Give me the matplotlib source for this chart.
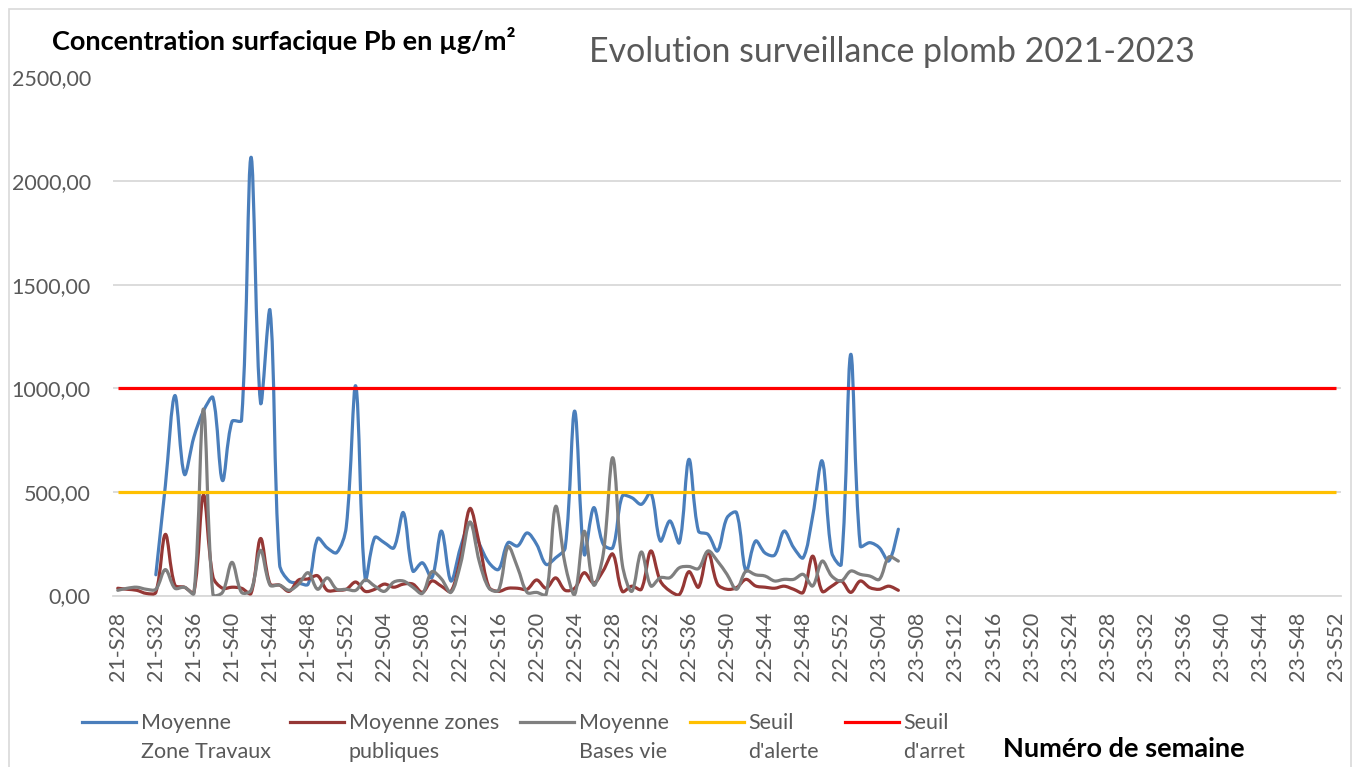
import numpy as np
import matplotlib
matplotlib.use("Agg")
import matplotlib.pyplot as plt
from matplotlib.path import Path
from matplotlib.patches import PathPatch, Rectangle
from matplotlib.lines import Line2D
from matplotlib.legend_handler import HandlerLine2D

plt.rcParams['font.family'] = ['Lato', 'DejaVu Sans']

# ---- categories: weeks 2021-S28 .. 2023-S52 ----
weeks = ([f"21-S{w:02d}" for w in range(28, 53)] +
         [f"22-S{w:02d}" for w in range(1, 53)] +
         [f"23-S{w:02d}" for w in range(1, 53)])

# ---- series (first value at index given by *_start) ----
travaux_start = 4
travaux = [100, 530, 965, 585, 765, 890, 955, 555, 840, 845,
           2115, 930, 1375, 150, 70, 60, 55, 275, 230, 207,
           330, 1011, 78, 280, 255, 230, 400, 118, 158, 86,
           311, 70, 231, 350, 247, 158, 126, 255, 239, 302,
           247, 150, 182, 230, 890, 199, 424, 247, 231, 480,
           472, 440, 496, 263, 360, 255, 657, 311, 295, 215,
           375, 400, 118, 263, 205, 195, 311, 231, 182, 384,
           649, 207, 150, 1164, 239, 255, 231, 167, 320]

publiques_start = 0
publiques = [35, 30, 25, 10, 15, 295, 50, 40, 15, 485,
             90, 35, 40, 35, 10, 275, 55, 50, 20, 75,
             80, 95, 25, 25, 30, 65, 20, 30, 55, 40,
             55, 55, 15, 70, 45, 20, 180, 420, 245, 40,
             20, 35, 35, 30, 75, 35, 85, 25, 35, 110,
             60, 120, 200, 20, 45, 30, 215, 70, 22, 5,
             115, 40, 210, 55, 30, 38, 78, 46, 40, 35,
             45, 30, 15, 190, 20, 45, 70, 15, 70, 38,
             30, 45, 25]

basevie_start = 0
basevie = [25, 35, 40, 30, 30, 125, 35, 40, 10, 900,
           5, 15, 160, 15, 25, 218, 50, 50, 25, 55,
           110, 30, 85, 30, 30, 25, 75, 45, 20, 65,
           70, 40, 10, 115, 80, 15, 150, 355, 160, 35,
           25, 235, 135, 15, 15, 5, 430, 150, 5, 310,
           50, 200, 665, 150, 20, 210, 46, 86, 86, 134,
           140, 130, 215, 166, 102, 30, 118, 100, 94, 70,
           78, 78, 102, 46, 166, 94, 70, 118, 102, 94,
           78, 186, 166]

seuil_alerte = 500
seuil_arret = 1000

series_labels = ["Moyenne\nZone Travaux", "Moyenne zones\npubliques",
                 "Moyenne\nBases vie", "Seuil\nd'alerte", "Seuil\nd'arret"]
colors = ["#4A7EBB", "#953735", "#7F7F7F", "#FFC000", "#FF0000"]
yticks = [0, 500, 1000, 1500, 2000, 2500]

TXT = "#595959"
LW = 2.3

W, H = 1357, 767
AX_L, AX_R, AX_B, AX_T = 113, 1341, 595.5, 77.5
N = len(weeks)
YMAX = 2500
SX = (AX_R - AX_L) / N          # px per category
SY = (AX_B - AX_T) / YMAX       # px per unit


def smooth_path(xs, ys):
    """Excel-like smoothed line: cubic Bezier segments whose tangents are
    weighted by the (pixel) lengths of the neighbouring segments."""
    pts = np.column_stack([xs, ys]).astype(float)
    scale = np.array([SX, SY])
    P = pts * scale
    n = len(P)
    verts = [pts[0]]
    codes = [Path.MOVETO]
    k = 1.0 / 3.0
    for i in range(n - 1):
        p0 = P[i - 1] if i > 0 else P[i]
        p1 = P[i]
        p2 = P[i + 1]
        p3 = P[i + 2] if i + 2 < n else P[i + 1]
        d01 = np.hypot(*(p1 - p0))
        d12 = np.hypot(*(p2 - p1))
        d23 = np.hypot(*(p3 - p2))
        a = d12 / (d01 + d12) if d01 + d12 > 0 else 0.5
        b = d12 / (d12 + d23) if d12 + d23 > 0 else 0.5
        if i == 0:
            a = 0.5
        if i + 2 >= n:
            b = 0.5
        c1 = p1 + (p2 - p0) * k * a
        c2 = p2 - (p3 - p1) * k * b
        verts += [c1 / scale, c2 / scale, pts[i + 1]]
        codes += [Path.CURVE4] * 3
    return Path(verts, codes)


class UpHandler(HandlerLine2D):
    def __init__(self, dy, **kw):
        super().__init__(**kw)
        self.dy = dy

    def create_artists(self, legend, orig_handle, xdescent, ydescent, width,
                       height, fontsize, trans):
        arts = super().create_artists(legend, orig_handle, xdescent, ydescent,
                                      width, height, fontsize, trans)
        for a in arts:
            a.set_ydata(np.asarray(a.get_ydata(), dtype=float) + self.dy)
        return arts


fig = plt.figure(figsize=(W / 100, H / 100), dpi=100)
ax = fig.add_axes([AX_L / W, 1 - AX_B / H, (AX_R - AX_L) / W, (AX_B - AX_T) / H])

x = np.arange(N)

for vals, start, col in [(travaux, travaux_start, colors[0]),
                         (publiques, publiques_start, colors[1]),
                         (basevie, basevie_start, colors[2])]:
    xs = x[start:start + len(vals)]
    p = smooth_path(xs, vals)
    ax.add_patch(PathPatch(p, facecolor='none', edgecolor=col, lw=LW,
                           capstyle='round', joinstyle='round', zorder=3))

ax.plot(x, [seuil_alerte] * N, color=colors[3], lw=LW, zorder=4, solid_capstyle='butt')
ax.plot(x, [seuil_arret] * N, color=colors[4], lw=LW, zorder=5, solid_capstyle='butt')

ax.set_xlim(-0.5, N - 0.5)
ax.set_ylim(0, YMAX)
ax.set_yticks(yticks)
ax.set_yticklabels([f"{v:.2f}".replace('.', ',') for v in yticks])
ax.set_xticks(x[::4])
ax.set_xticklabels(weeks[::4], rotation=90)
ax.tick_params(axis='x', length=0, pad=11.5, labelsize=15.5, labelcolor=TXT)
ax.tick_params(axis='y', length=0, pad=16, labelsize=15.5, labelcolor=TXT)
ax.grid(axis='y', color='#D9D9D9', lw=1.3, zorder=0)
ax.set_axisbelow(True)
for s in ['top', 'right', 'left']:
    ax.spines[s].set_visible(False)
ax.spines['bottom'].set_color('#D9D9D9')
ax.spines['bottom'].set_linewidth(1.3)

fig.text(891.5 / W, 1 - 52 / H, "Evolution surveillance plomb 2021-2023", ha='center', va='center',
         fontsize=24.4, color=TXT)
fig.text(52 / W, 1 - 40 / H, "Concentration surfacique Pb en µg/m²", ha='left', va='center',
         fontsize=19.5, fontweight='bold', color='black')
fig.text(1003 / W, 1 - 749 / H, "Numéro de semaine", ha='left', va='center',
         fontsize=19.5, fontweight='bold', color='black')

# legend: one entry per position, line aligned with first text line
leg_x = [82, 290, 520, 690, 845]
LEG_FS = 15.5
LINESP = 1.57
for hx, lab, col in zip(leg_x, series_labels, colors):
    h = Line2D([], [], color=col, lw=LW)
    leg = fig.legend([h], [lab], loc='upper left', bbox_to_anchor=(hx / W, 1 - 713 / H),
                     frameon=False, fontsize=LEG_FS, labelcolor=TXT,
                     handlelength=2.5, handletextpad=0.22, borderpad=0, borderaxespad=0,
                     handler_map={Line2D: UpHandler(11.4)})
    for t in leg.get_texts():
        t.set_multialignment('left')
        t.set_linespacing(LINESP)

fig.add_artist(Rectangle((9 / W, -0.01), (1351 - 9) / W, 1 - 9 / H + 0.01, transform=fig.transFigure,
                         fill=False, edgecolor='#D9D9D9', lw=1.2))

fig.savefig("out.png", dpi=100)
